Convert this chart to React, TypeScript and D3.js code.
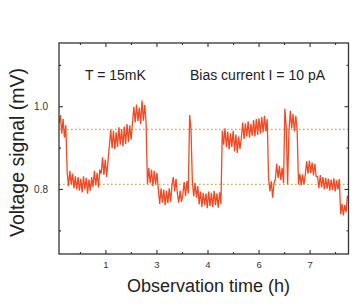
import * as d3 from "d3";
import { useEffect, useRef } from "react";

// sampling grid of the record (hours)
const sampleStartH = 0.12;
const sampleStepH = 0.04;

// voltage signal (mV), one reading per sample
const voltage: number[] = [
  0.96, 0.98, 0.935, 0.97, 0.925, 0.955,
  0.842, 0.808, 0.845, 0.812, 0.838, 0.803, 0.832, 0.8,
  0.83, 0.797, 0.826, 0.793, 0.832, 0.8, 0.828, 0.79, 0.824, 0.797, 0.83,
  0.806, 0.845, 0.81, 0.84, 0.805, 0.848,
  0.838, 0.878, 0.835, 0.872, 0.83, 0.868,
  0.905, 0.945, 0.9, 0.942, 0.897, 0.938, 0.903, 0.95, 0.908, 0.946, 0.904, 0.952, 0.91, 0.958, 0.915, 0.955, 0.92,
  0.96, 1.0, 0.962, 1.005, 0.965, 0.998, 0.958, 1.015, 0.966, 1.004, 0.962,
  0.812, 0.852, 0.815, 0.848, 0.808, 0.845, 0.812, 0.84,
  0.8, 0.765, 0.803, 0.768, 0.8, 0.762, 0.797, 0.767, 0.803, 0.77,
  0.81, 0.83, 0.795, 0.826, 0.79,
  0.768, 0.797, 0.77,
  0.788, 0.818, 0.784, 0.82, 0.79,
  0.98, 0.945,
  0.82, 0.783, 0.816, 0.78, 0.808,
  0.764, 0.795, 0.758, 0.792, 0.762, 0.79, 0.755, 0.795, 0.76, 0.792, 0.757, 0.797, 0.762, 0.79, 0.756, 0.793, 0.765,
  0.942, 0.908, 0.948, 0.902, 0.94, 0.897, 0.936, 0.903, 0.942, 0.892, 0.933, 0.888, 0.928, 0.898,
  0.925, 0.962, 0.922, 0.96, 0.928, 0.965, 0.925, 0.958, 0.93, 0.968, 0.928, 0.97, 0.932, 0.972, 0.935, 0.975, 0.938, 0.978, 0.94, 0.97,
  0.828, 0.795, 0.82, 0.78, 0.815,
  0.825, 0.862, 0.828, 0.857, 0.823, 0.852,
  0.815,
  0.995, 0.95,
  0.812,
  0.942, 0.99, 0.948, 0.982, 0.94, 0.978, 0.945,
  0.812, 0.838, 0.81, 0.836, 0.812,
  0.836, 0.868, 0.838, 0.87, 0.84, 0.865, 0.834, 0.862, 0.83,
  0.832, 0.803, 0.835, 0.805, 0.83, 0.8, 0.828, 0.802, 0.826, 0.797, 0.824, 0.798, 0.827, 0.795, 0.822, 0.8, 0.825,
  0.74, 0.765, 0.737, 0.762, 0.745,
  0.785,
];

// the two switching levels (dotted guides)
const levels = [0.945, 0.8125];

const xMajorTicks = [1.5, 3, 4.5, 6, 7.5];
const xTickLabels = ["1", "3", "4", "6", "7"];
const xMinorTicks = [0.75, 2.25, 3.75, 5.25, 6.75, 8.25];
const yMajorTicks = [0.8, 1.0];
const yTickLabels = ["0.8", "1.0"];
const yMinorTicks = [0.7, 0.9, 1.1];

const notes = ["T = 15mK", "Bias current I = 10 pA"];

const FONT = "'Liberation Sans', Arial, sans-serif";
const AXIS = "#333";

export default function App() {
  const ref = useRef<SVGSVGElement | null>(null);

  useEffect(() => {
    const svg = d3.select(ref.current);
    svg.selectAll("*").remove();

    const left = 59, right = 348.5, top = 43, bottom = 254;
    const x = d3.scaleLinear().domain([0.12, 8.63]).range([left, right]);
    const y = d3.scaleLinear().domain([0.644, 1.154]).range([bottom, top]);

    svg
      .append("defs")
      .append("clipPath")
      .attr("id", "plot")
      .append("rect")
      .attr("x", left)
      .attr("y", top)
      .attr("width", right - left)
      .attr("height", bottom - top);

    // dotted level guides
    svg
      .append("g")
      .selectAll("line")
      .data(levels)
      .enter()
      .append("line")
      .attr("x1", left)
      .attr("x2", right)
      .attr("y1", (d) => y(d))
      .attr("y2", (d) => y(d))
      .attr("stroke", "#e9a435")
      .attr("stroke-width", 1.2)
      .attr("stroke-dasharray", "1.6,2.4");

    // telegraph signal
    const line = d3
      .line<number>()
      .x((_, i) => x(sampleStartH + i * sampleStepH))
      .y((d) => y(d));

    svg
      .append("path")
      .datum(voltage)
      .attr("clip-path", "url(#plot)")
      .attr("d", line)
      .attr("fill", "none")
      .attr("stroke", "#ef4a24")
      .attr("stroke-width", 1.3)
      .attr("stroke-linejoin", "bevel");

    // frame
    svg
      .append("rect")
      .attr("x", left)
      .attr("y", top)
      .attr("width", right - left)
      .attr("height", bottom - top)
      .attr("fill", "none")
      .attr("stroke", AXIS)
      .attr("stroke-width", 1.3);

    // inward ticks on all four sides
    const ticks = svg.append("g").attr("stroke", AXIS).attr("stroke-width", 1.1);
    const xt = [
      ...xMajorTicks.map((v) => ({ v, len: 4 })),
      ...xMinorTicks.map((v) => ({ v, len: 2 })),
    ];
    xt.forEach(({ v, len }) => {
      ticks.append("line").attr("x1", x(v)).attr("x2", x(v)).attr("y1", bottom).attr("y2", bottom - len);
      ticks.append("line").attr("x1", x(v)).attr("x2", x(v)).attr("y1", top).attr("y2", top + len);
    });
    const yt = [
      ...yMajorTicks.map((v) => ({ v, len: 4 })),
      ...yMinorTicks.map((v) => ({ v, len: 2 })),
    ];
    yt.forEach(({ v, len }) => {
      ticks.append("line").attr("y1", y(v)).attr("y2", y(v)).attr("x1", left).attr("x2", left + len);
      ticks.append("line").attr("y1", y(v)).attr("y2", y(v)).attr("x1", right).attr("x2", right - len);
    });

    const text = svg.append("g").attr("font-family", FONT).attr("fill", AXIS);

    text
      .selectAll("text.xl")
      .data(xMajorTicks)
      .enter()
      .append("text")
      .attr("x", (d) => x(d))
      .attr("y", 268)
      .attr("text-anchor", "middle")
      .attr("font-size", 9.5)
      .text((_, i) => xTickLabels[i]);

    text
      .selectAll("text.yl")
      .data(yMajorTicks)
      .enter()
      .append("text")
      .attr("x", 48)
      .attr("y", (d) => y(d))
      .attr("dy", "0.35em")
      .attr("text-anchor", "end")
      .attr("font-size", 10)
      .text((_, i) => yTickLabels[i]);

    text
      .append("text")
      .attr("x", 208.5)
      .attr("y", 292)
      .attr("text-anchor", "middle")
      .attr("font-size", 18)
      .attr("fill", "#222")
      .text("Observation time (h)");

    text
      .append("text")
      .attr("transform", "translate(24,152.5) rotate(-90)")
      .attr("text-anchor", "middle")
      .attr("font-size", 19.5)
      .attr("fill", "#222")
      .text("Voltage signal (mV)");

    text
      .append("text")
      .attr("x", 85)
      .attr("y", 80)
      .attr("font-size", 14)
      .attr("fill", "#222")
      .text(notes[0]);

    text
      .append("text")
      .attr("x", 190)
      .attr("y", 80)
      .attr("font-size", 14)
      .attr("fill", "#222")
      .text(notes[1]);
  }, []);

  return (
    <svg
      ref={ref}
      width={360}
      height={304}
      style={{ position: "absolute", left: 0, top: 0, background: "#fff" }}
    />
  );
}
